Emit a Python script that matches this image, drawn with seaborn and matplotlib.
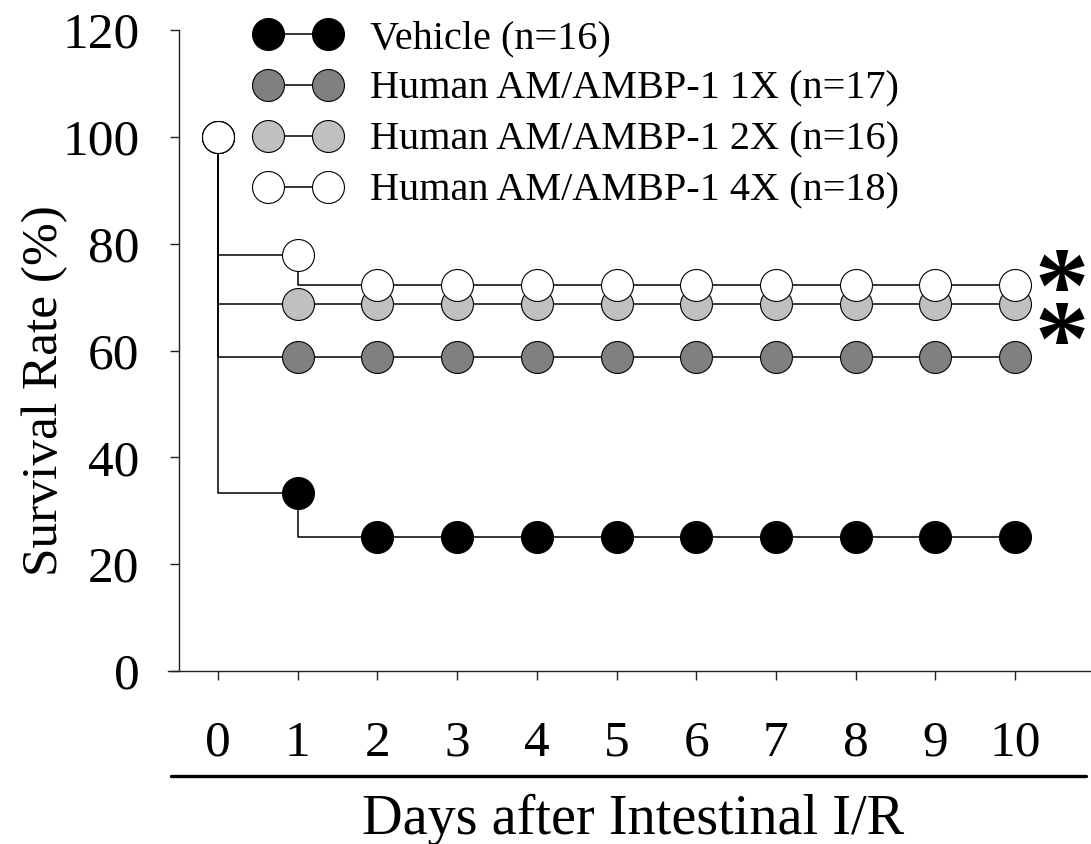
import seaborn as sns
import matplotlib.pyplot as plt
import matplotlib.lines as mlines
import pandas as pd
import numpy as np

days = np.arange(0, 11)
vehicle = [100, 33.3, 25, 25, 25, 25, 25, 25, 25, 25, 25]
am_1x = [100, 58.8, 58.8, 58.8, 58.8, 58.8, 58.8, 58.8, 58.8, 58.8, 58.8]
am_2x = [100, 68.75, 68.75, 68.75, 68.75, 68.75, 68.75, 68.75, 68.75, 68.75, 68.75]
am_4x = [100, 77.8, 72.2, 72.2, 72.2, 72.2, 72.2, 72.2, 72.2, 72.2, 72.2]

groups = ["Vehicle (n=16)", "Human AM/AMBP-1 1X (n=17)",
          "Human AM/AMBP-1 2X (n=16)", "Human AM/AMBP-1 4X (n=18)"]
face_colors = ["black", "#808080", "#c0c0c0", "white"]
y_ticks = [0, 20, 40, 60, 80, 100, 120]

df = pd.concat([pd.DataFrame({"Day": days, "Survival": v, "Group": g})
                for g, v in zip(groups, [vehicle, am_1x, am_2x, am_4x])])

sns.set_style("white")
plt.rcParams['font.family'] = ['Liberation Serif', 'DejaVu Serif']
plt.rcParams.update({"text.color": "black", "axes.labelcolor": "black",
                     "xtick.color": "black", "ytick.color": "black"})

fig = plt.figure(figsize=(10.91, 8.44), dpi=100)
ax = fig.add_axes([168 / 1091, 1 - 671 / 844, 923 / 1091, 641 / 844])

for g, fc in zip(groups, face_colors):
    sns.lineplot(x="Day", y="Survival", data=df[df["Group"] == g], ax=ax,
                 color="black", linewidth=1.1, drawstyle="steps-pre",
                 marker="o", markersize=23, markerfacecolor=fc,
                 markeredgecolor="black", markeredgewidth=0.8,
                 errorbar=None, label=g, clip_on=False)

ax.set_xlim(-0.627, 10.953)
ax.set_ylim(0, 120)
ax.set_xticks(days)
ax.set_yticks(y_ticks)
ax.spines["top"].set_visible(False)
ax.spines["right"].set_visible(False)
ax.spines["left"].set_position(("data", -0.489))
ax.spines["left"].set_bounds(0, 120)
for s in ["left", "bottom"]:
    ax.spines[s].set_color("#222222")
    ax.spines[s].set_linewidth(1.0)
ax.tick_params(axis="both", direction="out", length=6.5, width=1,
               color="#222222", labelsize=37, left=True, bottom=True)
ax.tick_params(axis="x", pad=29)
ax.tick_params(axis="y", pad=22)

ax.set_xlabel("Days after Intestinal I/R", fontsize=40.5)
ax.xaxis.set_label_coords(0.504, -0.232)
ax.xaxis.label.set_va("center")
ax.set_ylabel("Survival Rate (%)", fontsize=37)
ax.yaxis.set_label_coords(-0.133, 0.438)
ax.yaxis.label.set_va("center")

# significance asterisks (stacked)
ax.text(10.58, 65.3, "*\n*", fontsize=78, fontweight="bold", ha="center",
        va="center", multialignment="center", linespacing=0.40)

# thick line under the day labels
fig.add_artist(mlines.Line2D([171 / 1091, 1086 / 1091], [1 - 776 / 844, 1 - 776 / 844],
                             color="black", linewidth=2.4))

ax.legend(loc="upper left", bbox_to_anchor=(0.095, 1.016), frameon=False,
          fontsize=29, numpoints=2, handlelength=2.1, handletextpad=0.74,
          borderpad=0, borderaxespad=0, labelspacing=0.34)

plt.savefig("out.png", dpi=100)
plt.close()
